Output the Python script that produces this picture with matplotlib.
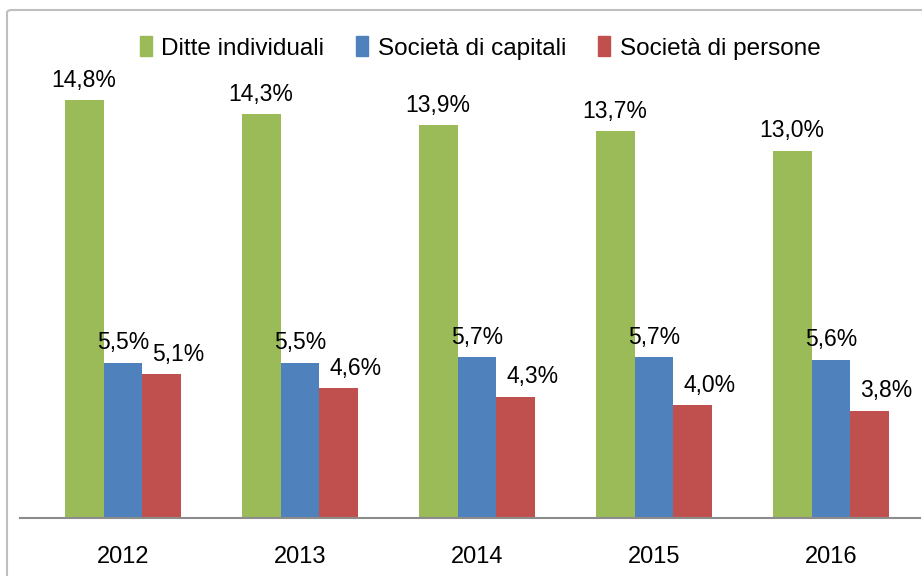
import matplotlib.pyplot as plt
import matplotlib.patches as mpatches
import numpy as np

plt.rcParams['font.family'] = ['Liberation Sans', 'DejaVu Sans']

years = ["2012", "2013", "2014", "2015", "2016"]
series_names = ["Ditte individuali", "Società di capitali", "Società di persone"]
ditte = [14.8, 14.3, 13.9, 13.7, 13.0]
capitali = [5.5, 5.5, 5.7, 5.7, 5.6]
persone = [5.1, 4.6, 4.3, 4.0, 3.8]

colors = ["#9bbb59", "#4f81bd", "#c0504d"]

fig = plt.figure(figsize=(9.22, 5.76), dpi=100)
W, H = 922, 576

# light grey chart border (Excel style)
border = mpatches.FancyBboxPatch((7 / W, -0.05), 1.2, (H - 10) / H + 0.05,
                                 boxstyle="round,pad=0,rounding_size=0.005",
                                 transform=fig.transFigure, fill=False,
                                 edgecolor="#bfbfbf", lw=1.5)
fig.patches.append(border)

ax = fig.add_axes([20 / W, (H - 518) / H, 900 / W, 452 / H])

x = np.arange(len(years))
width = 0.22
offsets = [-width, 0, width]
label_dx = [0, 0, 12]

for vals, name, col, off, dx in zip([ditte, capitali, persone], series_names,
                                    colors, offsets, label_dx):
    bars = ax.bar(x + off, vals, width, color=col, label=name, edgecolor="none")
    for b, v in zip(bars, vals):
        ax.annotate(f"{v:.1f}%".replace(".", ","),
                    (b.get_x() + b.get_width() / 2, b.get_height()),
                    xytext=(dx, 6), textcoords="offset points",
                    ha="center", va="bottom", fontsize=16.5)

ax.set_xlim(-0.582, 4.503)
ax.set_ylim(0, 16)
ax.set_xticks(x)
ax.set_xticklabels(years, fontsize=17)
ax.tick_params(axis="x", length=0, pad=20)
ax.set_yticks([])
for s in ["top", "right", "left"]:
    ax.spines[s].set_visible(False)
ax.spines["bottom"].set_color("#8c8c8c")
ax.spines["bottom"].set_linewidth(1.5)

handles = [mpatches.Patch(color=c) for c in colors]
fig.legend(handles, series_names, loc="center", bbox_to_anchor=(480 / W, 1 - 48 / H),
           ncol=3, frameon=False, fontsize=17.5, handlelength=0.5, handleheight=0.85,
           handletextpad=0.4, columnspacing=1.3)

fig.savefig("out.png", dpi=100)
